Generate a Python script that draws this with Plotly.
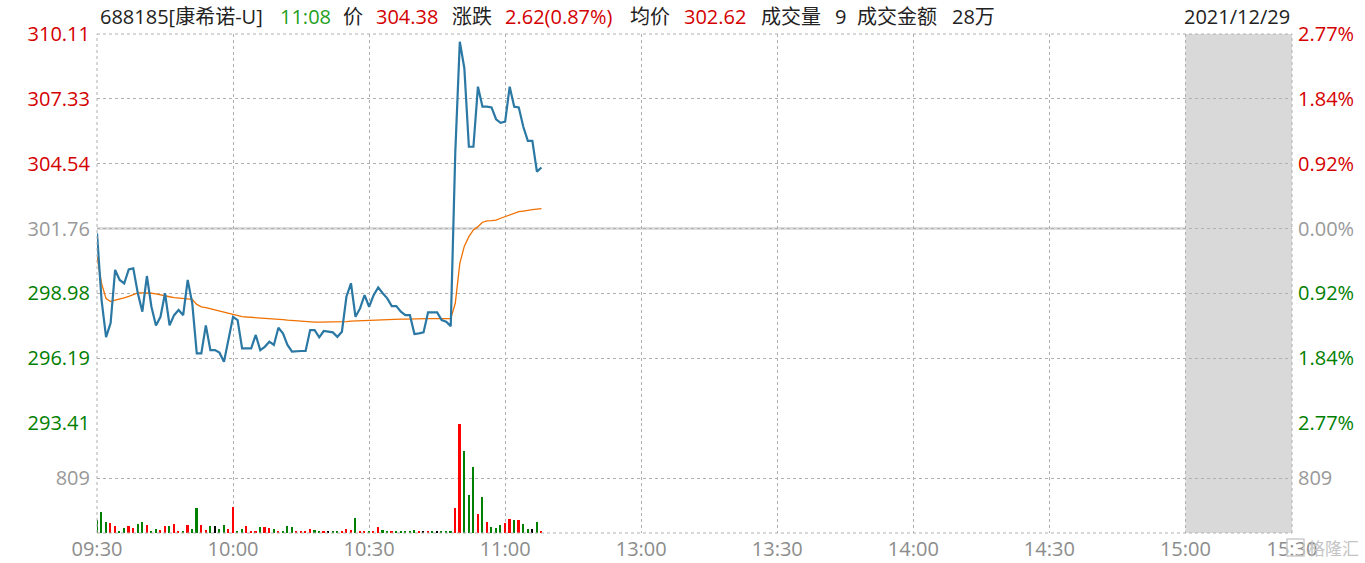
import plotly.graph_objects as go

# ---------------- data ----------------
minutes = list(range(99))  # minutes since 09:30 (lunch break collapsed)
price = [301.55, 298.7, 297.1, 297.7, 299.98, 299.55, 299.4, 300.0, 300.05, 298.98,
         298.19, 299.72, 298.40, 297.6, 297.97, 298.98, 297.6, 298.04, 298.26, 298.04,
         299.55, 298.55, 296.40, 296.40, 297.6, 296.54, 296.54, 296.43, 296.04, 296.97,
         297.97, 297.83, 296.61, 296.61, 296.61, 297.19, 296.54, 296.68, 296.9, 296.76,
         297.5, 297.26, 296.76, 296.47, 296.5, 296.5, 296.5, 297.4, 297.4, 297.09,
         297.36, 297.33, 297.3, 297.11, 297.33, 298.83, 299.41, 297.97, 298.33, 298.9,
         298.40, 298.9, 299.23, 298.98, 298.76, 298.43, 298.43, 298.19, 298.04, 298.04,
         297.23, 297.26, 297.3, 298.16, 298.16, 298.16, 297.83, 297.76, 297.57, 305.0,
         309.78, 308.64, 305.27, 305.27, 307.85, 306.99, 306.99, 306.96, 306.45, 306.30,
         306.35, 307.85, 306.99, 306.96, 306.13, 305.52, 305.52, 304.20, 304.38]
avg_price = [300.55, 299.4, 298.75, 298.62, 298.68, 298.72, 298.78, 298.85, 298.93, 299.0,
             299.0, 299.0, 298.98, 298.95, 298.92, 298.87, 298.83, 298.79, 298.77, 298.76,
             298.74, 298.72, 298.5, 298.4, 298.36, 298.31, 298.26, 298.21, 298.16, 298.12,
             298.05, 298.0, 297.98, 297.96, 297.95, 297.93, 297.91, 297.89, 297.88, 297.87,
             297.86, 297.85, 297.83, 297.81, 297.8, 297.78, 297.76, 297.74, 297.74, 297.74,
             297.74, 297.74, 297.74, 297.74, 297.74, 297.76, 297.78, 297.79, 297.8, 297.8,
             297.81, 297.82, 297.83, 297.84, 297.85, 297.86, 297.86, 297.87, 297.87, 297.88,
             297.88, 297.88, 297.88, 297.89, 297.89, 297.89, 297.89, 297.89, 297.89, 298.55,
             300.26, 301.0, 301.41, 301.7, 301.84, 302.03, 302.09, 302.1, 302.12, 302.2,
             302.27, 302.35, 302.44, 302.48, 302.51, 302.55, 302.57, 302.59, 302.61]
volume = [195, 312, 166, 151, 107, 34, 78, 107, 78, 136,
          166, 122, 34, 63, 49, 107, 107, 136, 34, 34,
          122, 63, 370, 122, 49, 107, 107, 63, 122, 63,
          385, 34, 63, 107, 34, 19, 93, 93, 78, 63,
          34, 34, 107, 93, 34, 34, 34, 63, 49, 19,
          19, 34, 19, 34, 19, 63, 49, 224, 34, 34,
          34, 34, 93, 49, 34, 19, 19, 34, 19, 34,
          49, 19, 34, 34, 19, 19, 34, 19, 19, 370,
          1598, 1204, 560, 970, 283, 531, 166, 93, 78, 122,
          151, 210, 195, 195, 136, 63, 63, 166, 19]
vol_dir = list("gggrrggrrg" "grggrrgrrg" "rggrrgkggr" "rggrrrgrrg" "rgggrrrrgg"
               "rkggrrrgrr" "grrggrgggg" "grkrgkgggr" "rgggrgrggg" "rrgrggkgr")

prev_close = 301.76
price_ticks = [310.11, 307.33, 304.54, 301.76, 298.98, 296.19, 293.41]
pct_ticks = ["2.77%", "1.84%", "0.92%", "0.00%", "0.92%", "1.84%", "2.77%"]
vol_ticks = [809]
time_vals = [0, 30, 60, 90, 120, 150, 180, 210, 240, 263.5]
time_labels = ["09:30", "10:00", "10:30", "11:00", "13:00", "13:30", "14:00", "14:30", "15:00", "15:30"]

header_items = [("688185[康希诺-U]", "dark"), ("11:08", "time"), ("价", "dark"), ("304.38", "up"),
                ("涨跌", "dark"), ("2.62(0.87%)", "up"), ("均价", "dark"), ("302.62", "up"),
                ("成交量", "dark"), ("9", "dark"), ("成交金额", "dark"), ("28万", "dark")]
header_date = "2021/12/29"

# ---------------- style ----------------
W, H = 1365, 563
L, R, T, B = 97, 1292, 34, 533
RED, GREEN, GRAY, DARK = "#d40000", "#008000", "#999999", "#222222"
FONT = "Open Sans, Noto Sans CJK SC, sans-serif"
xmax = 263.5
price_lo, price_hi = 293.41, 310.11
vol_hi = 1618
vol_frac = (533 - 423) / (B - T)

def col_for(v):
    if abs(v - prev_close) < 1e-6:
        return GRAY
    return RED if v > prev_close else GREEN

left_text = [f'<span style="color:{col_for(v)}">{v:.2f}</span>' for v in price_ticks]
right_text = [f'<span style="color:{col_for(v)}">{t}</span>' for v, t in zip(price_ticks, pct_ticks)]
bar_colors = [{"r": "#ff0000", "g": "#008000", "k": "#000000"}[c] for c in vol_dir]

fig = go.Figure()
fig.add_trace(go.Bar(x=minutes, y=volume, marker=dict(color=bar_colors, line_width=0),
                     width=0.36, xaxis="x2", yaxis="y2", showlegend=False, hoverinfo="skip"))
fig.add_trace(go.Scatter(x=minutes, y=avg_price, mode="lines", line=dict(color="#f07000", width=1.3),
                         xaxis="x", yaxis="y", showlegend=False))
fig.add_trace(go.Scatter(x=minutes, y=price, mode="lines", line=dict(color="#2a78a3", width=2.2),
                         xaxis="x", yaxis="y", showlegend=False))
# invisible traces to activate right-side axes
fig.add_trace(go.Scatter(x=[0], y=[prev_close], mode="markers", marker=dict(opacity=0),
                         xaxis="x", yaxis="y3", showlegend=False, hoverinfo="skip"))
fig.add_trace(go.Scatter(x=[0], y=[0], mode="markers", marker=dict(opacity=0),
                         xaxis="x2", yaxis="y4", showlegend=False, hoverinfo="skip"))

grid = dict(showgrid=True, gridcolor="#b0b0b0", griddash="dot", gridwidth=1, zeroline=False,
            automargin=False)

fig.update_layout(
    width=W, height=H, margin=dict(l=L, r=W - R, t=T, b=H - B, autoexpand=False),
    paper_bgcolor="white", plot_bgcolor="white", font=dict(family=FONT, size=20),
    bargap=0,
    xaxis=dict(domain=[0, 1], range=[0, xmax], anchor="y", tickvals=time_vals, showticklabels=False,
               ticks="", **grid),
    xaxis2=dict(domain=[0, 1], range=[0, xmax], anchor="y2", matches="x", tickvals=time_vals,
                ticktext=time_labels, ticks="", tickfont=dict(size=20, color="#8c8c8c"),
                ticklabelstandoff=2, **grid),
    yaxis=dict(domain=[vol_frac, 1], range=[price_lo, price_hi], tickvals=price_ticks, ticktext=left_text,
               ticks="", ticklabelstandoff=6, tickfont=dict(size=20), **grid),
    yaxis3=dict(domain=[vol_frac, 1], overlaying="y", side="right", range=[price_lo, price_hi],
                tickvals=price_ticks, ticktext=right_text, ticks="", ticklabelstandoff=5,
                tickfont=dict(size=20), showgrid=False, zeroline=False, automargin=False),
    yaxis2=dict(domain=[0, vol_frac], range=[0, vol_hi], tickvals=vol_ticks, ticktext=["809"],
                ticks="", ticklabelstandoff=6, tickfont=dict(size=20, color=GRAY), **grid),
    yaxis4=dict(domain=[0, vol_frac], overlaying="y2", side="right", range=[0, vol_hi], tickvals=vol_ticks,
                ticktext=["809"], ticks="", ticklabelstandoff=5, tickfont=dict(size=20, color=GRAY),
                showgrid=False, zeroline=False, anchor="x2", automargin=False),
)

shapes = []
# previous close line
shapes.append(dict(type="line", xref="paper", x0=0, x1=1, yref="y", y0=prev_close, y1=prev_close,
                   line=dict(color="#dddddd", width=3), layer="between"))
# after-hours gray block
shapes.append(dict(type="rect", xref="x", x0=240, x1=xmax, yref="paper", y0=0, y1=1,
                   fillcolor="#d9d9d9", line_width=0, layer="between"))
# frame (dotted)
for x0, y0, x1, y1 in [(0, 0, 1, 0), (0, 1, 1, 1), (0, 0, 0, 1), (1, 0, 1, 1)]:
    shapes.append(dict(type="line", xref="paper", yref="paper", x0=x0, y0=y0, x1=x1, y1=y1,
                       line=dict(color="#b0b0b0", width=1, dash="dot"), layer="above"))
# watermark icon box
shapes.append(dict(type="rect", xref="paper", yref="paper",
                   x0=(1287 - L) / (R - L), x1=(1304 - L) / (R - L),
                   y0=-(556 - B) / (B - T), y1=-(539 - B) / (B - T),
                   line=dict(color="#cccccc", width=1.5), fillcolor="rgba(0,0,0,0)"))
fig.update_layout(shapes=shapes)

colors = {"dark": DARK, "up": RED, "time": "#1ea01e"}
header_x = [98, 278, 341, 374, 450, 503, 628, 682, 759, 833, 855, 950]
ann = []
hy = 1 + (T - 16.5) / (B - T)
for (txt, kind), px in zip(header_items, header_x):
    ann.append(dict(text=txt, xref="paper", yref="paper", x=(px - L) / (R - L), y=hy,
                    xanchor="left", yanchor="middle", showarrow=False,
                    font=dict(size=20, color=colors[kind], family=FONT)))
ann.append(dict(text=header_date, xref="paper", yref="paper", x=1.0, y=hy, xanchor="right",
                yanchor="middle", showarrow=False, font=dict(size=20, color=DARK, family=FONT)))
ann.append(dict(text="格隆汇", xref="paper", yref="paper", x=(1306 - L) / (R - L), y=-(548 - B) / (B - T),
                xanchor="left", yanchor="middle", showarrow=False,
                font=dict(size=17, color="#c4c4c4", family=FONT)))
fig.update_layout(annotations=ann)

fig.write_html("out.html", config={"displayModeBar": False},
               post_script="document.body.style.margin='0';document.body.style.overflow='hidden';")
